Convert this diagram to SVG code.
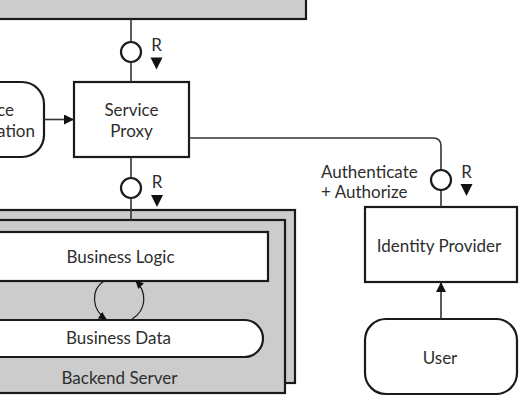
<svg xmlns="http://www.w3.org/2000/svg" width="528" height="404" viewBox="0 0 528 404">
  <defs>
    <style>
      .box { fill: #ffffff; stroke: #1a1a1a; stroke-width: 2.2; }
      .grey { fill: #cccccc; stroke: #1a1a1a; stroke-width: 2.2; }
      .wire { fill: none; stroke: #333333; stroke-width: 1.6; }
      .thin { fill: none; stroke: #1a1a1a; stroke-width: 1.2; }
      .port { fill: #ffffff; stroke: #1a1a1a; stroke-width: 2.2; }
      .tri { fill: #111111; }
      text { font-family: Lato, "Open Sans", "Liberation Sans", sans-serif; font-size: 17px; font-weight: 400; fill: #2e2e2e; }
      .c { text-anchor: middle; }
      .e { text-anchor: end; }
    </style>
    <marker id="arrow" viewBox="0 0 10 10" refX="10" refY="5" markerWidth="10" markerHeight="10" markerUnits="userSpaceOnUse" orient="auto">
      <path d="M0,0 L10,5 L0,10 z" fill="#111111"/>
    </marker>
    <marker id="arrowSmall" viewBox="0 0 10 10" refX="9" refY="5" markerWidth="8" markerHeight="8" markerUnits="userSpaceOnUse" orient="auto">
      <path d="M0,0 L10,5 L0,10 z" fill="#111111"/>
    </marker>
  </defs>

  <!-- upstream component (cut off at top) -->
  <g id="upstream">
    <rect class="grey" x="-10" y="-10" width="316" height="29"/>
  </g>

  <!-- client component (cut off at left) -->
  <g id="client">
    <rect class="box" x="-80" y="82" width="124" height="75" rx="22" ry="22"/>
    <text class="e" x="14" y="116">ce</text>
    <text class="e" x="35" y="137">ation</text>
  </g>

  <g id="service-proxy">
    <rect class="box" x="74" y="82" width="115" height="75"/>
    <text class="c" x="131.5" y="116">Service</text>
    <text class="c" x="131.5" y="137">Proxy</text>
  </g>

  <g id="backend-server">
    <rect class="grey" x="-40" y="210" width="335" height="173"/>
    <rect class="grey" x="-50" y="220" width="335" height="173"/>
    <text class="c" x="119.5" y="384">Backend Server</text>
  </g>

  <g id="business-logic">
    <rect class="box" x="-28" y="232" width="296" height="49"/>
    <text class="c" x="120.5" y="263">Business Logic</text>
  </g>

  <g id="business-data">
    <rect class="box" x="-40" y="320" width="303" height="37" rx="18.5" ry="18.5"/>
    <text class="c" x="118.5" y="344">Business Data</text>
  </g>

  <g id="identity-provider">
    <rect class="box" x="365" y="207" width="152" height="75"/>
    <text class="c" x="439" y="252">Identity Provider</text>
  </g>

  <g id="user">
    <rect class="box" x="365" y="319" width="152" height="75" rx="21" ry="21"/>
    <text class="c" x="440" y="364">User</text>
  </g>

  <g id="connectors">
    <!-- upstream to proxy -->
    <path class="wire" d="M131,19 V82"/>
    <!-- client to proxy -->
    <path class="wire" d="M44,119.5 H74" marker-end="url(#arrow)"/>
    <!-- proxy to backend -->
    <path class="wire" d="M131,157 V221"/>
    <!-- proxy to identity provider -->
    <path class="wire" d="M189,138 H433 Q441,138 441,146 V207"/>
    <!-- user to identity provider -->
    <path class="wire" d="M441,319 V282" marker-end="url(#arrow)"/>
    <!-- logic / data cycle -->
    <path class="thin" d="M104,281 C90,290 92,310 106,319" marker-end="url(#arrowSmall)"/>
    <path class="thin" d="M132,319 C147,310 147,292 136,281" marker-end="url(#arrowSmall)"/>

    <!-- request ports -->
    <circle class="port" cx="131" cy="52" r="10"/>
    <text class="c" x="156.5" y="51">R</text>
    <path class="tri" d="M150.5,57.5 H162.5 L156.5,69.5 Z"/>

    <circle class="port" cx="131" cy="188" r="10"/>
    <text class="c" x="157" y="188">R</text>
    <path class="tri" d="M151,195 H163 L157,207 Z"/>

    <circle class="port" cx="441" cy="180" r="10"/>
    <text class="c" x="466.5" y="178">R</text>
    <path class="tri" d="M460.5,184 H472.5 L466.5,196 Z"/>
    <text x="321" y="178">Authenticate</text>
    <text x="321" y="198">+ Authorize</text>
  </g>
</svg>
